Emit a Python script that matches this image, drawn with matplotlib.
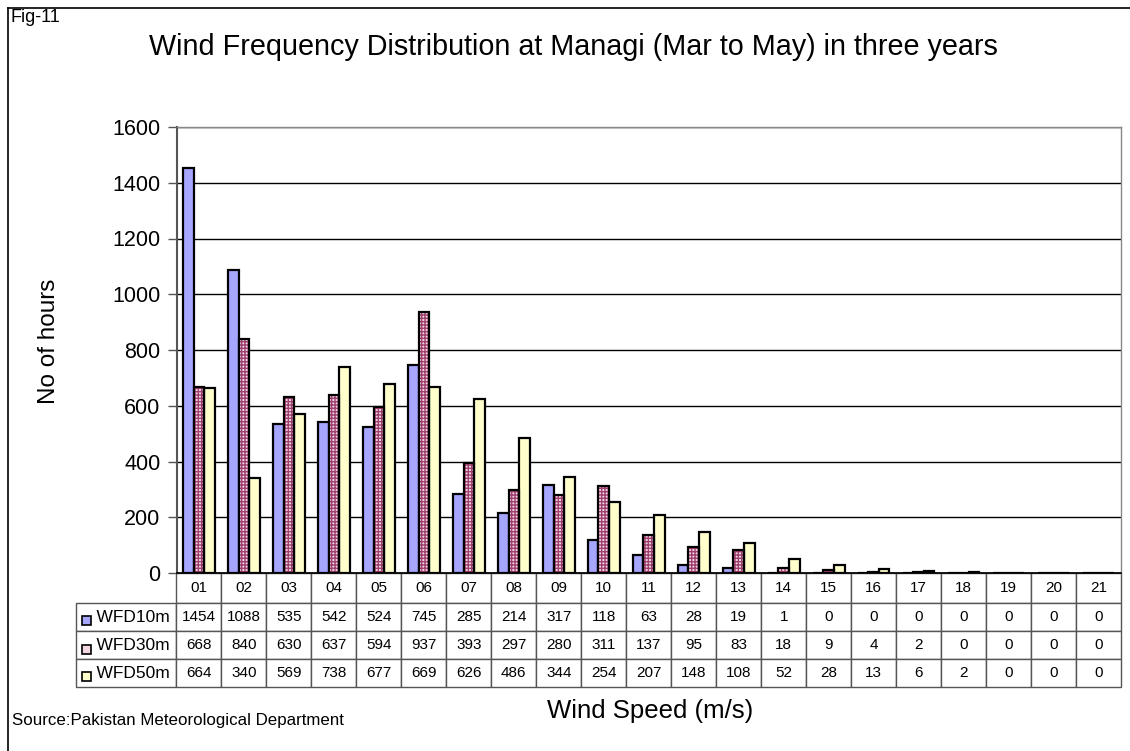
import matplotlib
matplotlib.use("Agg")
import matplotlib.pyplot as plt
from matplotlib.patches import Rectangle
from matplotlib.lines import Line2D
import numpy as np

categories = ["01", "02", "03", "04", "05", "06", "07", "08", "09", "10", "11",
              "12", "13", "14", "15", "16", "17", "18", "19", "20", "21"]
wfd10 = [1454, 1088, 535, 542, 524, 745, 285, 214, 317, 118, 63, 28, 19, 1, 0, 0, 0, 0, 0, 0, 0]
wfd30 = [668, 840, 630, 637, 594, 937, 393, 297, 280, 311, 137, 95, 83, 18, 9, 4, 2, 0, 0, 0, 0]
wfd50 = [664, 340, 569, 738, 677, 669, 626, 486, 344, 254, 207, 148, 108, 52, 28, 13, 6, 2, 0, 0, 0]
series_names = ["WFD10m", "WFD30m", "WFD50m"]
series = [wfd10, wfd30, wfd50]

plt.rcParams['font.family'] = ['Liberation Sans', 'DejaVu Sans']
W, H = 1130, 751
fig = plt.figure(figsize=(W / 100, H / 100), dpi=100)

L, R, T, B = 176.5, 1121, 127, 573
ax = fig.add_axes([L / W, 1 - B / H, (R - L) / W, (B - T) / H])

x = np.arange(len(categories))
bw = 0.235
faces = ['#A6A6FF', '#F2D6E4', '#FFFFCC']
hatches = [None, '+++++', None]
hcols = ['#8C8CF0', '#A0406E', '#FFFFCC']
for i, (vals, name) in enumerate(zip(series, series_names)):
    pos = x + (i - 1) * bw
    if hatches[i]:
        ax.bar(pos, vals, bw, color=faces[i], edgecolor=hcols[i], hatch=hatches[i],
               linewidth=0, zorder=3)
        ax.bar(pos, vals, bw, fill=False, edgecolor='black', linewidth=1.6, zorder=4)
    else:
        ax.bar(pos, vals, bw, color=faces[i], edgecolor='black', linewidth=1.6, zorder=3)

ax.set_xlim(-0.5, len(categories) - 0.5)
ax.set_ylim(0, 1600)
ax.set_yticks(range(0, 1601, 200))
ax.tick_params(axis='y', labelsize=15.5, length=6.5, width=1, color='#555555', pad=5)
ax.tick_params(axis='x', bottom=False, labelbottom=False)
ax.yaxis.grid(True, color='black', linewidth=1, zorder=0)
ax.set_axisbelow(True)
for s in ['top', 'right']:
    ax.spines[s].set_color('#888888')
    ax.spines[s].set_linewidth(1)
ax.spines['left'].set_color('#555555')
ax.spines['left'].set_linewidth(1.5)
ax.spines['bottom'].set_color('black')
ax.spines['bottom'].set_linewidth(1.2)

# data table (bbox covers data columns; row labels hang to the left)
cell_text = [[str(v) for v in s] for s in series]
row_lab_left = 76
row_w = (L - row_lab_left) / (R - L)
tbl_bottom = 687
tbl_h = (tbl_bottom - B) / (B - T)
tbl = ax.table(cellText=cell_text, rowLabels=["    " + n for n in series_names],
               colLabels=categories, cellLoc='center', rowLoc='left',
               bbox=[0, -tbl_h, 1, tbl_h])
tbl._autoColumns = []
tbl.auto_set_font_size(False)
for (r, c), cell in tbl.get_celld().items():
    cell.set_fontsize(11)
    cell.set_edgecolor('#555555')
    cell.set_linewidth(1)
    cell.set_height(30 if r == 0 else 28)
    if c == -1:
        cell.set_width(row_w)
        cell.PAD = 0.01
        cell.get_text().set_fontsize(12.5)
    else:
        cell.set_width(1 / len(categories))

# legend keys in row labels
row_centers = [603 + 15, 633 + 14, 661 + 13]
for i in range(3):
    yc = 1 - (row_centers[i] + 2) / H
    fig.patches.append(Rectangle((82 / W, yc - 4.5 / H), 9 / W, 9 / H,
                                 transform=fig.transFigure, facecolor=faces[i],
                                 edgecolor='black', linewidth=1.2, zorder=10))

fig.text(573 / W, 1 - 47 / H, "Wind Frequency Distribution at Managi (Mar to May) in three years",
         ha='center', va='center', fontsize=20.7)
fig.text(10 / W, 1 - 17 / H, "Fig-11", ha='left', va='center', fontsize=13)
fig.text(49 / W, 1 - 341 / H, "No of hours", rotation=90, ha='center', va='center', fontsize=17.5)
fig.text(650 / W, 1 - 711 / H, "Wind Speed (m/s)", ha='center', va='center', fontsize=18.5)
fig.text(12 / W, 1 - 721 / H, "Source:Pakistan Meteorological Department", ha='left',
         va='center', fontsize=12.2)

# figure frame (left and top edges)
fig.lines.append(Line2D([8 / W, 8 / W], [0, 1 - 8 / H], transform=fig.transFigure,
                        color='black', linewidth=1.2))
fig.lines.append(Line2D([8 / W, 1], [1 - 8 / H, 1 - 8 / H], transform=fig.transFigure,
                        color='black', linewidth=1.2))

fig.savefig("out.png", dpi=100)
